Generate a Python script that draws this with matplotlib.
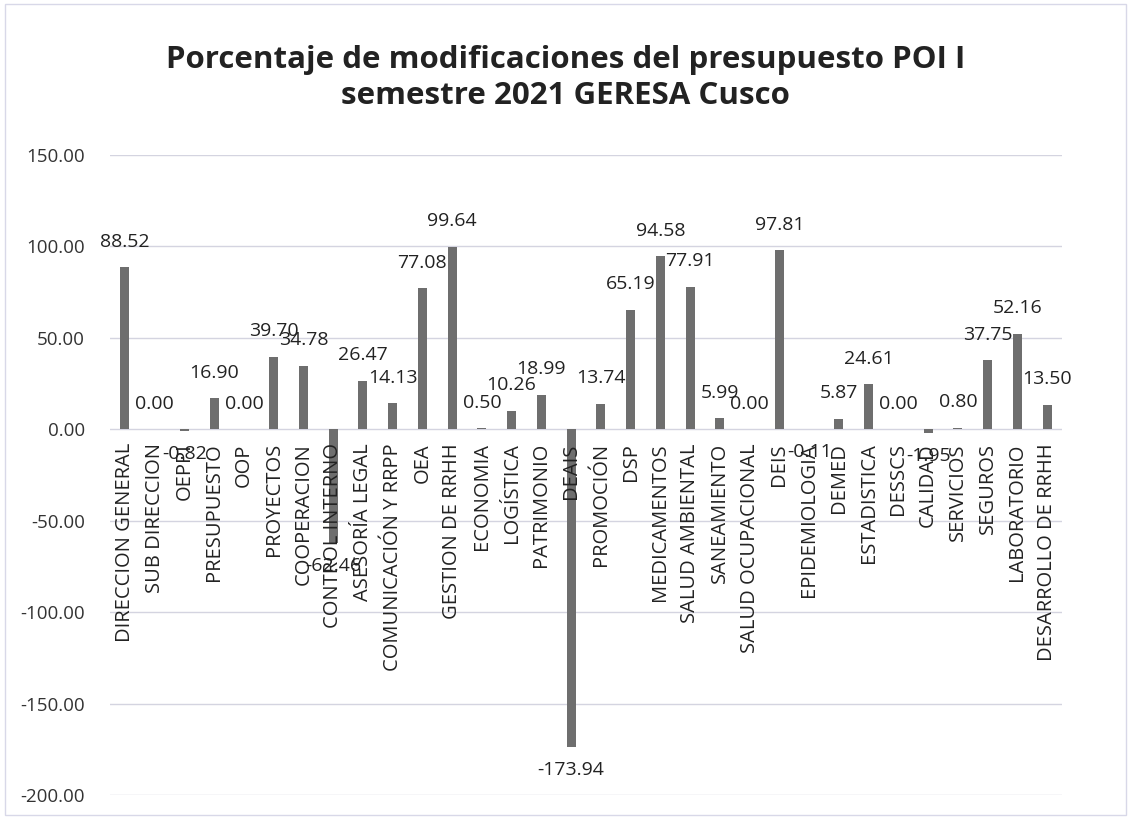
import matplotlib.pyplot as plt
from matplotlib.patches import Rectangle

# Datos del grafico
areas = ["DIRECCION GENERAL", "SUB DIRECCION", "OEPPI", "PRESUPUESTO", "OOP",
         "PROYECTOS", "COOPERACION", "CONTROL INTERNO", "ASESORÍA LEGAL",
         "COMUNICACIÓN Y RRPP", "OEA", "GESTION DE RRHH", "ECONOMIA", "LOGÍSTICA",
         "PATRIMONIO", "DEAIS", "PROMOCIÓN", "DSP", "MEDICAMENTOS",
         "SALUD AMBIENTAL", "SANEAMIENTO", "SALUD OCUPACIONAL", "DEIS",
         "EPIDEMIOLOGIA", "DEMED", "ESTADISTICA", "DESSCS", "CALIDAD",
         "SERVICIOS", "SEGUROS", "LABORATORIO", "DESARROLLO DE RRHH"]
porcentajes = [88.52, 0.00, -0.82, 16.90, 0.00, 39.70, 34.78, -62.46, 26.47,
               14.13, 77.08, 99.64, 0.50, 10.26, 18.99, -173.94, 13.74, 65.19,
               94.58, 77.91, 5.99, 0.00, 97.81, -0.11, 5.87, 24.61, 0.00, -1.95,
               0.80, 37.75, 52.16, 13.50]
yticks = [150, 100, 50, 0, -50, -100, -150, -200]

fuente = "Open Sans"

fig = plt.figure(figsize=(11.31, 8.19), dpi=100)
ax = fig.add_axes([110 / 1131, 1 - 795 / 819, (1062 - 110) / 1131, (795 - 155) / 819])

# el eje x va en la linea del cero
ax.spines["bottom"].set_position(("data", 0))
for s in ["top", "right", "left", "bottom"]:
    ax.spines[s].set_visible(False)

x = list(range(len(areas)))
ax.bar(x, porcentajes, width=0.3, color="#6e6e6e", zorder=3)

# Etiquetas de datos
for xi, v in zip(x, porcentajes):
    if v >= 0:
        ax.annotate(f"{v:.2f}", (xi, v), xytext=(0, 12), textcoords="offset points",
                    ha="center", va="bottom", fontsize=14, family=fuente, color="#222222", zorder=6)
    else:
        ax.annotate(f"{v:.2f}", (xi, v), xytext=(0, -10), textcoords="offset points",
                    ha="center", va="top", fontsize=14, family=fuente, color="#222222", zorder=6)

ax.set_xlim(-0.5, len(areas) - 0.5)
ax.set_ylim(-200, 150)
ax.set_yticks(yticks)
ax.set_yticklabels([f"{t:.2f}" for t in yticks], family=fuente, fontsize=13.5, color="#333333")
ax.yaxis.grid(True, color="#d4d4e0", linewidth=1)

ax.set_xticks(x)
ax.set_xticklabels(areas, rotation=90, family=fuente, fontsize=14.5, color="#222222",
                   va="top", ha="center")
ax.tick_params(axis="both", length=0)
ax.tick_params(axis="x", pad=10)
ax.tick_params(axis="y", pad=18)
# rejilla debajo de las barras, nombres encima
ax.yaxis.set_zorder(1)
ax.xaxis.set_zorder(5)

fig.text(0.5, 1 - 78 / 819, "Porcentaje de modificaciones del presupuesto POI I\nsemestre 2021 GERESA Cusco",
         ha="center", va="center", fontsize=22.5, fontweight="bold", family=fuente,
         color="#222222", linespacing=1.3)

# Marco del grafico
fig.patches.append(Rectangle((5 / 1131, 0.005), 1 - 10 / 1131, 0.99, transform=fig.transFigure,
                             fill=False, edgecolor="#d8d8e8", linewidth=1))

fig.savefig("out.png", dpi=100)
